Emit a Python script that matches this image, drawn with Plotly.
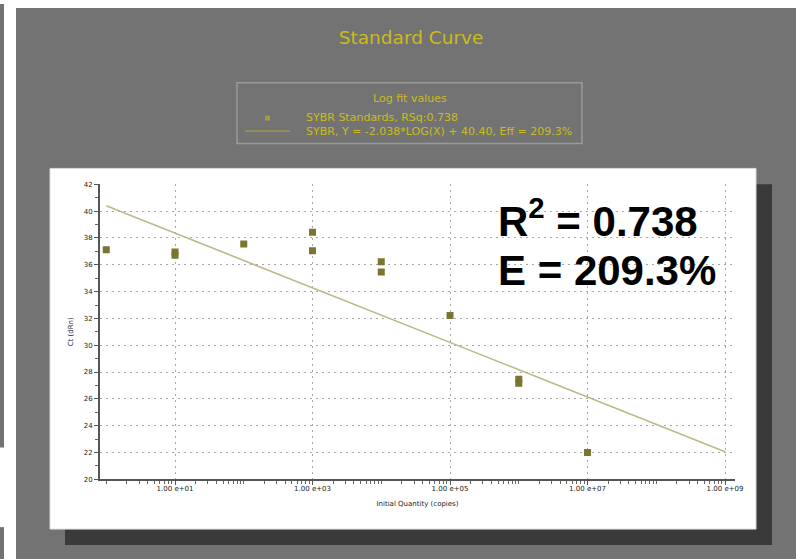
import numpy as np
import plotly.graph_objects as go

# Standard-curve data: initial quantity (copies) and measured Ct (dRn)
quantity = [1, 10, 10, 100, 1000, 1000, 1e4, 1e4, 1e5, 1e6, 1e6, 1e7]
ct_values = [37.12, 36.95, 36.72, 37.55, 38.42, 37.05, 36.23, 35.46, 32.22, 27.47, 27.17, 22.0]

# Log fit reported by the instrument software
fit_slope = -2.038
fit_intercept = 40.40
fit_rsq = 0.738
fit_eff = 209.3
fit_span = [1, 1e9]

x_tickvals = [1e1, 1e3, 1e5, 1e7, 1e9]
x_ticktext = ["1.00 e+01", "1.00 e+03", "1.00 e+05", "1.00 e+07", "1.00 e+09"]
y_tickvals = [20, 22, 24, 26, 28, 30, 32, 34, 36, 38, 40, 42]

# layout is designed on a 796 x 559 grid; positions are stored as paper fractions
W, H = 796, 559
YELLOW = "#cbbb1c"
PANEL = "#737373"


def px(x):
    return x / W


def py(y):
    return 1 - y / H


fit_x = np.logspace(np.log10(fit_span[0]), np.log10(fit_span[1]), 50)
fit_y = fit_slope * np.log10(fit_x) + fit_intercept

minor_x = [m * 10 ** k for k in range(0, 10) for m in range(1, 10)]

fig = go.Figure()
fig.add_trace(go.Scatter(
    x=fit_x, y=fit_y, mode="lines",
    line=dict(color="#bdb98a", width=1.6),
    name="SYBR, Y = %.3f*LOG(X) + %.2f, Eff = %.1f%%" % (fit_slope, fit_intercept, fit_eff),
    hoverinfo="skip",
))
fig.add_trace(go.Scatter(
    x=quantity, y=ct_values, mode="markers",
    marker=dict(symbol="square", size=7, color="#7a7630"),
    name="SYBR Standards, RSq:%.3f" % fit_rsq,
))

shapes = []


def rect(x0, y0, x1, y1, fill, line_color=None, line_width=0):
    shapes.append(dict(
        type="rect", xref="paper", yref="paper", layer="below",
        x0=px(x0), x1=px(x1), y0=py(y1), y1=py(y0),
        fillcolor=fill,
        line=dict(color=line_color or fill, width=line_width),
    ))


# page frame, panel, drop shadow and white chart card
rect(0, 0, 4, 445, PANEL)
rect(0, 525, 4, 559, PANEL)
rect(16, 4, 796, 559, PANEL)
rect(65, 181, 772, 543, "#3a3a3a")
rect(50, 165, 756, 527, "white", "#d9d9d9", 1)
# legend box
rect(237, 79, 582, 140, "rgba(0,0,0,0)", "#9a9a9a", 1.5)
# legend symbols
shapes.append(dict(type="line", xref="paper", yref="paper",
                   x0=px(245), x1=px(290), y0=py(127.5), y1=py(127.5),
                   line=dict(color="#b3aa3c", width=1)))
rect(265, 112, 270, 117, "#a39c3a")

LEG_FONT = dict(family="DejaVu Sans", size=11, color=YELLOW)
annotations = [
    dict(text="Log fit values", x=px(410), y=py(95), xref="paper", yref="paper",
         showarrow=False, xanchor="center", yanchor="middle", font=LEG_FONT),
    dict(text="SYBR Standards, RSq:%.3f" % fit_rsq, x=px(304), y=py(114),
         xref="paper", yref="paper", showarrow=False, xanchor="left", yanchor="middle",
         font=LEG_FONT),
    dict(text="SYBR, Y = %.3f*LOG(X) + %.2f, Eff = %.1f%%" % (fit_slope, fit_intercept, fit_eff),
         x=px(304), y=py(128), xref="paper", yref="paper", showarrow=False,
         xanchor="left", yanchor="middle", font=LEG_FONT),
    dict(text="<b>R<sup>2</sup> = %.3f</b>" % fit_rsq, x=px(496), y=py(215),
         xref="paper", yref="paper", showarrow=False, xanchor="left", yanchor="middle",
         font=dict(family="Liberation Sans", size=42, color="black")),
    dict(text="<b>E = %.1f%%</b>" % fit_eff, x=px(496), y=py(267),
         xref="paper", yref="paper", showarrow=False, xanchor="left", yanchor="middle",
         font=dict(family="Liberation Sans", size=42, color="black")),
]

fig.update_layout(
    width=804, height=565,
    margin=dict(l=0, r=0, t=0, b=0),
    paper_bgcolor="white",
    plot_bgcolor="rgba(0,0,0,0)",
    showlegend=False,
    title=dict(text="Standard Curve", x=px(407), y=py(37), xanchor="center", yanchor="middle",
               font=dict(family="DejaVu Sans", size=18.5, color=YELLOW)),
    shapes=shapes,
    annotations=annotations,
    xaxis=dict(
        type="log", domain=[px(100), px(735)], range=[-0.091, 9.145],
        tickmode="array", tickvals=x_tickvals, ticktext=x_ticktext,
        ticks="outside", ticklen=4, tickcolor="#555", tickwidth=1,
        ticklabelstandoff=-3,
        tickfont=dict(family="DejaVu Sans", size=7, color="#222"),
        showline=True, linecolor="#555", linewidth=2,
        showgrid=True, gridcolor="#a8a8a8", griddash="2px,4px", gridwidth=1,
        zeroline=False,
        minor=dict(tickmode="array", tickvals=minor_x, ticks="outside", ticklen=3,
                   tickcolor="#666", showgrid=False),
        title=dict(text="Initial Quantity (copies)", standoff=9,
                   font=dict(family="DejaVu Sans", size=7, color="#222")),
    ),
    yaxis=dict(
        domain=[py(477), py(181)], range=[20, 42],
        tickmode="array", tickvals=y_tickvals,
        ticks="outside", ticklen=4, tickcolor="#555", tickwidth=1,
        tickfont=dict(family="DejaVu Sans", size=7, color="#222"),
        showline=True, linecolor="#555", linewidth=2,
        showgrid=True, gridcolor="#a8a8a8", griddash="2px,4px", gridwidth=1,
        zeroline=False,
        minor=dict(dtick=1, ticks="outside", ticklen=3, tickcolor="#666", showgrid=False),
        title=dict(text="Ct (dRn)", standoff=9,
                   font=dict(family="DejaVu Sans", size=7, color="#222")),
    ),
)

# keep the page exactly the size of the figure (no body margin, no scrollbars)
page_style = (
    "document.documentElement.style.margin='0';"
    "document.documentElement.style.overflow='hidden';"
    "document.body.style.margin='0';"
    "document.body.style.overflow='hidden';"
)
fig.write_html("out.html", post_script=page_style)
